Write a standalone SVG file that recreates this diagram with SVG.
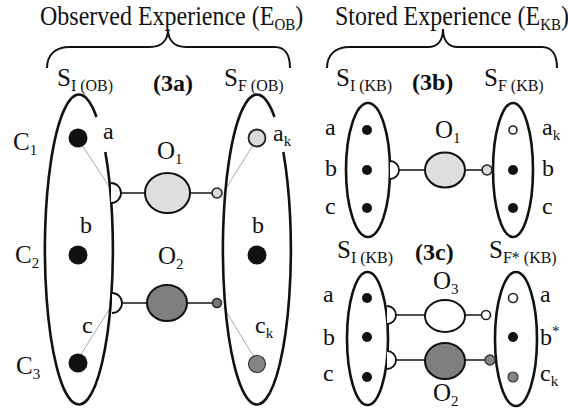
<svg xmlns="http://www.w3.org/2000/svg" width="568" height="413" viewBox="0 0 568 413">
<style>
text{font-family:"Liberation Serif","Times New Roman",serif;fill:#111;font-size:24px}
.cap{font-size:25px}
.b{font-weight:bold;font-size:24px}
.sub{font-size:15px}
.ssub{font-size:16px}
.loop{fill:none;stroke:#111;stroke-width:2.6}
.brace{fill:none;stroke:#111;stroke-width:2}
.sock{fill:#fff;stroke:#111;stroke-width:1.8}
.link{stroke:#222;stroke-width:1.6}
.thin{stroke:#aaa;stroke-width:1}
.blk{fill:#111}
.obj{stroke:#111;stroke-width:2}
</style>
<rect width="568" height="413" fill="#fff"/>
<!-- titles and braces -->
<g id="title-ob">
<g transform="translate(0,25) scale(1,1.18) translate(0,-25)">
<text x="40" y="25" font-size="23">Observed Experience (E<tspan class="sub" dy="4">OB</tspan><tspan dy="-4">)</tspan></text>
</g>
<path class="brace" d="M47,68 C47,55 55,47 70,47 L150,47 C162,47 168,40 168,29 C168,40 174,47 186,47 L275,47 C285,47 290,55 290,68"/>
</g>
<g id="title-kb">
<g transform="translate(0,25) scale(1,1.18) translate(0,-25)">
<text x="335" y="25" font-size="23">Stored Experience (E<tspan class="sub" dy="4">KB</tspan><tspan dy="-4">)</tspan></text>
</g>
<path class="brace" d="M327,68 C327,55 335,47 350,47 L428,47 C438,47 443,40 443,29 C443,40 448,47 458,47 L542,47 C552,47 557,55 557,68"/>
</g>
<!-- connectors -->
<g id="connectors">
<line class="link" x1="121" y1="193" x2="145" y2="193"/>
<line class="link" x1="190" y1="193" x2="212" y2="193"/>
<line class="link" x1="121" y1="303" x2="147" y2="303"/>
<line class="link" x1="187" y1="303" x2="212.5" y2="303"/>
<line class="thin" x1="80" y1="142" x2="110" y2="188"/>
<line class="thin" x1="255" y1="142" x2="225" y2="190"/>
<line class="thin" x1="110" y1="308" x2="80" y2="356"/>
<line class="thin" x1="224" y1="308" x2="254" y2="357"/>
<line class="link" x1="399" y1="170" x2="425" y2="170"/>
<line class="link" x1="465" y1="170" x2="482" y2="170"/>
<line class="link" x1="396" y1="315" x2="425" y2="315"/>
<line class="link" x1="465" y1="315" x2="481.5" y2="315"/>
<line class="link" x1="396" y1="360" x2="425" y2="360"/>
<line class="link" x1="465" y1="360" x2="485" y2="360"/>
</g>
<!-- 3a -->
<g id="si-ob">
<path class="loop" d="M105.3,152 A34,155 0 1 1 96.5,117"/>
<text class="cap" x="57" y="86">S<tspan class="ssub" dy="5">I (OB)</tspan></text>
<circle class="blk" cx="78" cy="138" r="9.5"/>
<circle class="blk" cx="78" cy="255" r="9.5"/>
<circle class="blk" cx="78" cy="363" r="9.5"/>
<text x="103" y="139">a</text>
<text x="80" y="233">b</text>
<text x="82" y="333">c</text>
<text class="cap" x="13" y="150">C<tspan class="sub" dy="5">1</tspan></text>
<text class="cap" x="15" y="263">C<tspan class="sub" dy="5">2</tspan></text>
<text class="cap" x="16" y="374">C<tspan class="sub" dy="5">3</tspan></text>
<path class="sock" d="M111,183 A10,10 0 0 1 111,203"/>
<path class="sock" d="M112,293 A10,10 0 0 1 112,313"/>
</g>
<g id="label-3a"><text class="b" x="153" y="91">(3a)</text></g>
<g id="o1-a">
<text class="cap" x="157" y="159">O<tspan class="sub" dy="5">1</tspan></text>
<ellipse class="obj" cx="167.5" cy="193" rx="22.5" ry="20" fill="#dedede"/>
</g>
<g id="o2-a">
<text class="cap" x="158" y="264">O<tspan class="sub" dy="5">2</tspan></text>
<ellipse class="obj" cx="167" cy="303" rx="20" ry="18" fill="#7f7f7f"/>
</g>
<g id="sf-ob">
<path class="loop" d="M283.3,152 A34,155 0 1 1 274.5,117"/>
<text class="cap" x="224" y="86">S<tspan class="ssub" dy="5">F (OB)</tspan></text>
<circle cx="257" cy="138" r="8.5" fill="#dadada" stroke="#222" stroke-width="1.8"/>
<circle class="blk" cx="257" cy="255" r="9.5"/>
<circle cx="257" cy="364" r="8.5" fill="#858585" stroke="#333" stroke-width="1.2"/>
<text x="273" y="141">a<tspan class="sub" dy="5">k</tspan></text>
<text x="252" y="233">b</text>
<text x="255" y="333">c<tspan class="sub" dy="5">k</tspan></text>
<circle cx="217" cy="193" r="5" fill="#dadada" stroke="#222" stroke-width="1.6"/>
<circle cx="217" cy="303" r="4.5" fill="#777" stroke="#222" stroke-width="1.4"/>
</g>
<!-- 3b -->
<g id="si-kb-b">
<ellipse class="loop" cx="368" cy="170" rx="22" ry="67"/>
<text class="cap" x="336" y="86">S<tspan class="ssub" dy="5">I (KB)</tspan></text>
<circle class="blk" cx="367" cy="130" r="5"/>
<circle class="blk" cx="367" cy="170" r="5"/>
<circle class="blk" cx="367" cy="208" r="5"/>
<text x="325" y="135">a</text>
<text x="325" y="176">b</text>
<text x="325" y="214">c</text>
<path class="sock" d="M390,161 A9,9 0 0 1 390,179"/>
</g>
<g id="label-3b"><text class="b" x="412" y="90">(3b)</text></g>
<g id="o1-b">
<text class="cap" x="435" y="138">O<tspan class="sub" dy="5">1</tspan></text>
<ellipse class="obj" cx="445" cy="170" rx="20" ry="17.5" fill="#dedede"/>
</g>
<g id="sf-kb-b">
<ellipse class="loop" cx="513" cy="170" rx="20" ry="67"/>
<text class="cap" x="484" y="86">S<tspan class="ssub" dy="5">F (KB)</tspan></text>
<circle cx="513" cy="130" r="4" fill="#fff" stroke="#222" stroke-width="1.6"/>
<circle class="blk" cx="513" cy="170" r="5"/>
<circle class="blk" cx="513" cy="208" r="5"/>
<text x="542" y="135">a<tspan class="sub" dy="5">k</tspan></text>
<text x="542" y="176">b</text>
<text x="542" y="214">c</text>
<circle cx="487" cy="170" r="5" fill="#dadada" stroke="#222" stroke-width="1.6"/>
</g>
<!-- 3c -->
<g id="si-kb-c">
<ellipse class="loop" cx="367.5" cy="338.5" rx="20.5" ry="66.5"/>
<text class="cap" x="337" y="258">S<tspan class="ssub" dy="5">I (KB)</tspan></text>
<circle class="blk" cx="367" cy="298" r="5"/>
<circle class="blk" cx="367" cy="337" r="5"/>
<circle class="blk" cx="367" cy="377" r="5"/>
<text x="323" y="302">a</text>
<text x="323" y="345">b</text>
<text x="323" y="381">c</text>
<path class="sock" d="M387,306 A9,9 0 0 1 387,324"/>
<path class="sock" d="M387,351 A9,9 0 0 1 387,369"/>
</g>
<g id="label-3c"><text class="b" x="415" y="260">(3c)</text></g>
<g id="o3-c">
<text class="cap" x="433" y="289">O<tspan class="sub" dy="5">3</tspan></text>
<ellipse class="obj" cx="445" cy="316" rx="20" ry="16" fill="#fff"/>
</g>
<g id="o2-c">
<text class="cap" x="433" y="401">O<tspan class="sub" dy="5">2</tspan></text>
<ellipse class="obj" cx="445" cy="361" rx="20" ry="18" fill="#7f7f7f"/>
</g>
<g id="sf-kb-c">
<ellipse class="loop" cx="516" cy="339" rx="21" ry="67"/>
<text class="cap" x="489" y="258">S<tspan class="ssub" dy="5">F* (KB)</tspan></text>
<circle cx="513" cy="298" r="4.5" fill="#fff" stroke="#222" stroke-width="1.6"/>
<circle class="blk" cx="513" cy="337" r="5"/>
<circle cx="513" cy="377" r="5" fill="#858585" stroke="#333" stroke-width="1.2"/>
<text x="540" y="302">a</text>
<text x="540" y="345">b<tspan class="sub" dy="-9">*</tspan></text>
<text x="540" y="381">c<tspan class="sub" dy="5">k</tspan></text>
<circle cx="486" cy="315" r="4.5" fill="#fff" stroke="#222" stroke-width="1.6"/>
<circle cx="490" cy="360" r="5" fill="#858585" stroke="#333" stroke-width="1.4"/>
</g>
</svg>
